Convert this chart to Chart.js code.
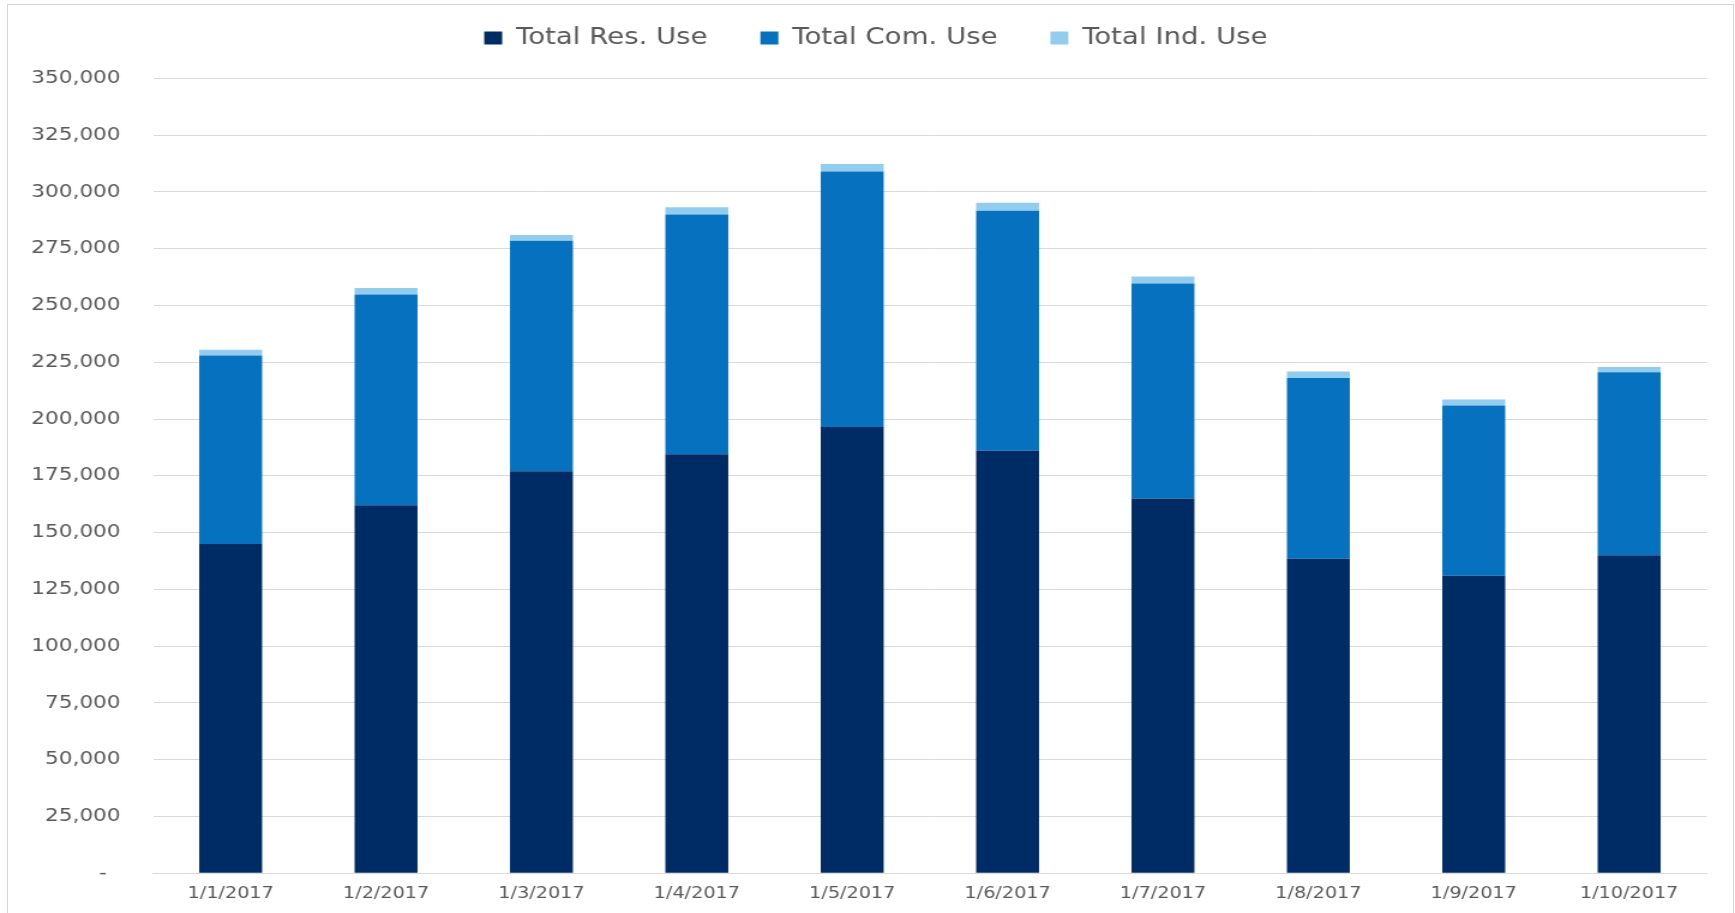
<!DOCTYPE html>
<html>
<head>
<meta charset="utf-8">
<script src="https://cdn.jsdelivr.net/npm/chart.js@4/dist/chart.umd.min.js"></script>
<style>
  html, body { margin: 0; padding: 0; background: #ffffff; overflow: hidden; }
  #stage { position: relative; width: 1735px; height: 913px; }
  #wrap { position: absolute; left: 0; top: 0; width: 1446px; height: 913px;
          transform: scaleX(1.19986); transform-origin: 0 0; }
  #frame { position: absolute; left: 7px; top: 4px; width: 1725px; height: 930px;
           border: 1px solid #d4d4d4; pointer-events: none; }
</style>
</head>
<body>
<div id="stage">
  <div id="wrap"><canvas id="c"></canvas></div>
  <div id="frame"></div>
</div>
<script>
const categories = ['1/1/2017','1/2/2017','1/3/2017','1/4/2017','1/5/2017','1/6/2017','1/7/2017','1/8/2017','1/9/2017','1/10/2017'];
const resUse = [145000, 162000, 177000, 184500, 196500, 186000, 165000, 138500, 131000, 140000];
const comUse = [83000, 92800, 101500, 105500, 112500, 105700, 94700, 79600, 74900, 80600];
const indUse = [2500, 2900, 2500, 3200, 3300, 3500, 3000, 2800, 2700, 2300];
const seriesNames = ['Total Res. Use', 'Total Com. Use', 'Total Ind. Use'];
const yMin = 0, yMax = 350000, yStep = 25000;

const textColor = '#595959';
const gridColor = '#d9d9d9';

new Chart(document.getElementById('c'), {
  type: 'bar',
  data: {
    labels: categories,
    datasets: [
      { label: seriesNames[0], data: resUse, backgroundColor: '#002c66' },
      { label: seriesNames[1], data: comUse, backgroundColor: '#0672bf' },
      { label: seriesNames[2], data: indUse, backgroundColor: '#92cdef' }
    ]
  },
  options: {
    responsive: true,
    maintainAspectRatio: false,
    animation: false,
    layout: { padding: { left: 14, right: 0, top: -17.5, bottom: 0 } },
    datasets: { bar: { categoryPercentage: 1.0, barPercentage: 0.405 } },
    plugins: {
      legend: {
        position: 'top',
        labels: {
          color: textColor,
          font: { family: 'DejaVu Sans', size: 23 },
          boxWidth: 15,
          boxHeight: 13,
          padding: 44
        }
      },
      title: {
        display: true,
        text: '',
        position: 'top',
        weight: 500,
        font: { size: 10 },
        padding: { top: 0, bottom: 6.8 }
      },
      tooltip: { enabled: false }
    },
    scales: {
      x: {
        stacked: true,
        grid: { display: false, drawTicks: false },
        border: { display: true, color: gridColor, width: 1 },
        ticks: { color: textColor, font: { family: 'DejaVu Sans', size: 16 }, padding: 11, maxRotation: 0, autoSkip: false },
        afterFit: (axis) => { axis.height = 39.7; axis.paddingLeft = 0; axis.paddingRight = 23.5; }
      },
      y: {
        stacked: true,
        min: yMin,
        max: yMax,
        grid: { color: gridColor, lineWidth: 1, drawTicks: false },
        border: { display: false },
        ticks: {
          stepSize: yStep,
          color: textColor,
          font: { family: 'DejaVu Sans', size: 18 },
          padding: 27,
          callback: (v) => v === 0 ? '-  ' : Number(v).toLocaleString('en-US')
        },
        afterFit: (axis) => { axis.width = 113.5; axis.paddingTop = 78.3; axis.paddingBottom = 0; }
      }
    }
  }
});
</script>
</body>
</html>
